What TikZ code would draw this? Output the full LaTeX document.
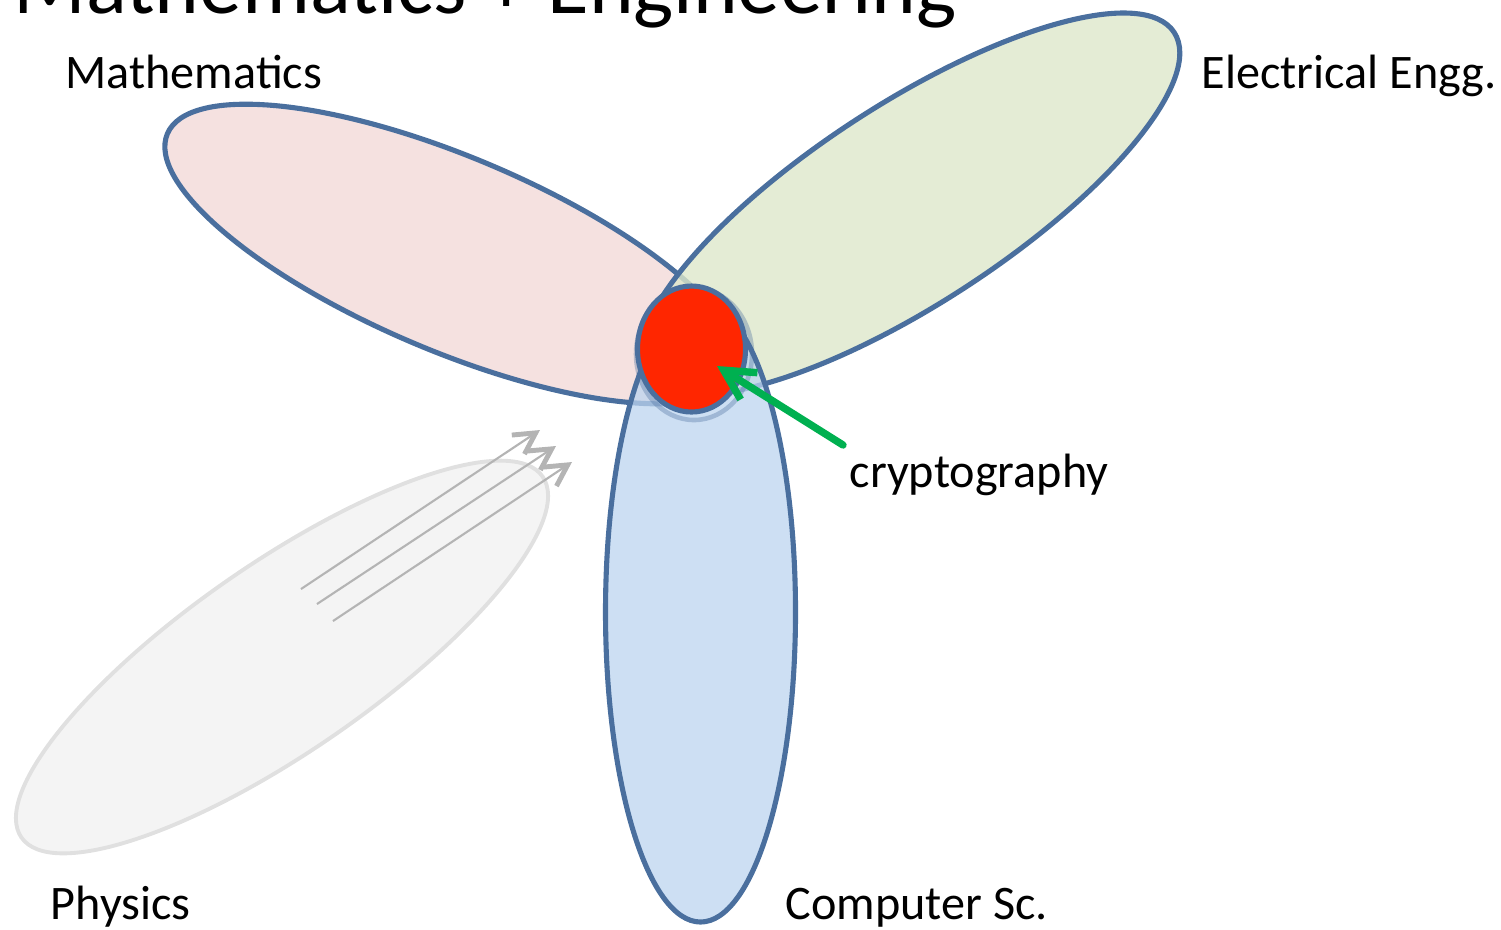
\documentclass[tikz,border=0pt]{standalone}
\usepackage{fontspec}
\setmainfont{Carlito}
\usetikzlibrary{arrows.meta}

\definecolor{rimblue}{HTML}{4A6F9E}
\definecolor{mathpink}{HTML}{F5E1E0}
\definecolor{eegreen}{HTML}{DDE7CA}
\definecolor{csblue}{HTML}{BCD4EF}
\definecolor{physgray}{HTML}{F4F4F4}
\definecolor{physrim}{HTML}{E0E0E0}
\definecolor{cryptored}{HTML}{FF2600}
\definecolor{pointgreen}{HTML}{00B050}
\definecolor{forcegray}{HTML}{B4B4B4}

\begin{document}
\begin{tikzpicture}[x=0.01cm,y=0.01cm,
    every node/.style={font=\fontsize{13.7}{16}\selectfont, inner sep=0pt, anchor=base west},
    petal/.style={draw=rimblue, line width=1.45pt},
    force/.style={draw=forcegray, line width=0.6pt, -{Straight Barb[length=6pt, width=6.5pt, line width=1.4pt]}}]
    \useasboundingbox (0,0) rectangle (1501,-929);
    \clip (0,0) rectangle (1501,-929);

    % -------------------------
    % Physics (faded petal with flow lines)
    % -------------------------
    \draw[draw=physrim, fill=physgray, line width=1.1pt, rotate around={34.7:(282,-657)}] (282,-657) ellipse [x radius=317, y radius=94];
    \coordinate (f1s) at (301,-589); \coordinate (f1e) at (540,-430);
    \coordinate (f2s) at (317,-604); \coordinate (f2e) at (556,-446);
    \coordinate (f3s) at (333,-621); \coordinate (f3e) at (572,-462);
    \draw[force] (f1s) -- (f1e);
    \draw[force] (f2s) -- (f2e);
    \draw[force] (f3s) -- (f3e);

    % -------------------------
    % Mathematics, Electrical Engg., Computer Sc.
    % -------------------------
    \draw[petal, fill=mathpink, rotate around={-22.9:(452,-254)}] (452,-254) ellipse [x radius=309, y radius=97];
    \draw[petal, fill=eegreen, fill opacity=0.8, rotate around={33:(910,-204)}] (910,-204) ellipse [x radius=315, y radius=100];
    \draw[petal, fill=csblue, fill opacity=0.75] (700.5,-612) ellipse [x radius=95, y radius=310];

    % -------------------------
    % Cryptography in the middle
    % -------------------------
    \draw[rimblue, opacity=0.35, line width=1.3pt] (694,-354) ellipse [x radius=58, y radius=66];
    \draw[petal, fill=cryptored] (691.5,-349) ellipse [x radius=54, y radius=63];
    \coordinate (ptail) at (843,-445);
    \coordinate (ptip) at (717,-366);
    \draw[draw=pointgreen, line width=2.1pt, line cap=round, -{Straight Barb[length=8.5pt, width=9pt, line width=2.1pt]}] (ptail) -- (ptip);

    % Labels
    \node (title) at (13,-13) {\fontsize{24.2}{28}\selectfont Mathematics + Engineering};
    \node (mathlabel) at (65,-88) {Mathematics};
    \node (eelabel) at (1201,-88) {Electrical Engg.};
    \node (cryptolabel) at (849,-487) {cryptography};
    \node (physlabel) at (50,-919) {Physics};
    \node (cslabel) at (785,-919) {Computer Sc.};
\end{tikzpicture}
\end{document}
